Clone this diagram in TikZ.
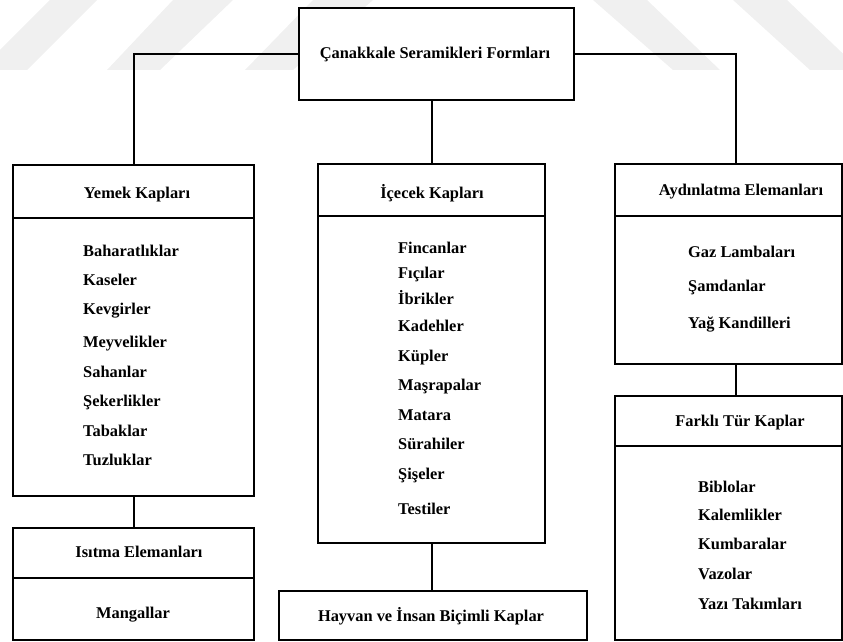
\documentclass[tikz,border=0pt]{standalone}
\usepackage{fontspec}
\setmainfont{Liberation Serif}
\begin{document}
\begin{tikzpicture}[x=1pt,y=-1pt,
  box/.style={draw, line width=2.2pt, fill=white, inner sep=0pt, anchor=north west},
  txt/.style={font=\fontsize{16.4}{20}\selectfont\bfseries, inner sep=0pt},
  item/.style={txt, anchor=base west},
  head/.style={txt, anchor=base},
  link/.style={line width=2.2pt},
  wm/.style={fill=black!6, draw=none}]
\useasboundingbox (0,0) rectangle (843,642);
% faint watermark bands
\begin{scope}
\clip (0,0) rectangle (843,642);
\fill[wm] (50,0) -- (97,0) -- (27,70) -- (-20,70) -- cycle;
\fill[wm] (173,0) -- (233,0) -- (160,70) -- (107,70) -- cycle;
\fill[wm] (313,0) -- (373,0) -- (293,70) -- (245,70) -- cycle;
\fill[wm] (593,0) -- (647,0) -- (720,70) -- (673,70) -- cycle;
\fill[wm] (733,0) -- (787,0) -- (860,70) -- (810,70) -- cycle;
\end{scope}
% boxes
\node[box, minimum width=275pt, minimum height=92pt] (title) at (298,7) {};
\node[txt, anchor=base] (titleT) at (435,59) {Çanakkale Seramikleri Formları};

\node[box, minimum width=241pt, minimum height=53pt] (yemekH) at (12,164) {};
\node[box, minimum width=241pt, minimum height=278pt] (yemekB) at (12,217) {};
\node[box, minimum width=241pt, minimum height=50pt] (isitH) at (12,527) {};
\node[box, minimum width=241pt, minimum height=62pt] (isitB) at (12,577) {};

\node[box, minimum width=227pt, minimum height=52pt] (iceH) at (317,163) {};
\node[box, minimum width=227pt, minimum height=327pt] (iceB) at (317,215) {};
\node[box, minimum width=308pt, minimum height=49pt] (hayvan) at (278,590) {};

\node[box, minimum width=227pt, minimum height=52pt] (aydH) at (614,163) {};
\node[box, minimum width=227pt, minimum height=148pt] (aydB) at (614,215) {};
\node[box, minimum width=227pt, minimum height=50pt] (farH) at (614,395) {};
\node[box, minimum width=227pt, minimum height=194pt] (farB) at (614,445) {};

% header texts
\node[head] (yemekT) at (137,198) {Yemek Kapları};
\node[head] (iceT) at (432,198) {İçecek Kapları};
\node[head] (aydT) at (741,195) {Aydınlatma Elemanları};
\node[head] (isitT) at (139,557) {Isıtma Elemanları};
\node[head] (mangT) at (133,618) {Mangallar};
\node[head] (hayvanT) at (431,621) {Hayvan ve İnsan Biçimli Kaplar};
\node[head] (farT) at (740,426) {Farklı Tür Kaplar};

% Yemek items
\node[item] (y1) at (83,256) {Baharatlıklar};
\node[item] (y2) at (83,285) {Kaseler};
\node[item] (y3) at (83,314) {Kevgirler};
\node[item] (y4) at (83,347) {Meyvelikler};
\node[item] (y5) at (83,377) {Sahanlar};
\node[item] (y6) at (83,406) {Şekerlikler};
\node[item] (y7) at (83,436) {Tabaklar};
\node[item] (y8) at (83,465) {Tuzluklar};

% Icecek items
\node[item] (i1) at (398,253) {Fincanlar};
\node[item] (i2) at (398,278) {Fıçılar};
\node[item] (i3) at (398,304) {İbrikler};
\node[item] (i4) at (398,331) {Kadehler};
\node[item] (i5) at (398,361) {Küpler};
\node[item] (i6) at (398,390) {Maşrapalar};
\node[item] (i7) at (398,420) {Matara};
\node[item] (i8) at (398,449) {Sürahiler};
\node[item] (i9) at (398,479) {Şişeler};
\node[item] (i10) at (398,514) {Testiler};

% Aydinlatma items
\node[item] (a1) at (688,257) {Gaz Lambaları};
\node[item] (a2) at (688,291) {Şamdanlar};
\node[item] (a3) at (688,328) {Yağ Kandilleri};

% Farkli items
\node[item] (f1) at (698,492) {Biblolar};
\node[item] (f2) at (698,520) {Kalemlikler};
\node[item] (f3) at (698,549) {Kumbaralar};
\node[item] (f4) at (698,579) {Vazolar};
\node[item] (f5) at (698,609) {Yazı Takımları};

% connectors
\coordinate (aydTop) at (736,163);
\coordinate (aydBot) at (736,363);
\coordinate (farTop) at (736,395);
\draw[link] (title.west) -| (yemekH.north);
\draw[link] (title.east) -| (aydTop);
\draw[link] (title.south -| iceH.north) -- (iceH.north);
\draw[link] (yemekB.south) -- (isitH.north);
\draw[link] (iceB.south) -- (iceB.south |- hayvan.north);
\draw[link] (aydBot) -- (farTop);
\end{tikzpicture}
\end{document}
